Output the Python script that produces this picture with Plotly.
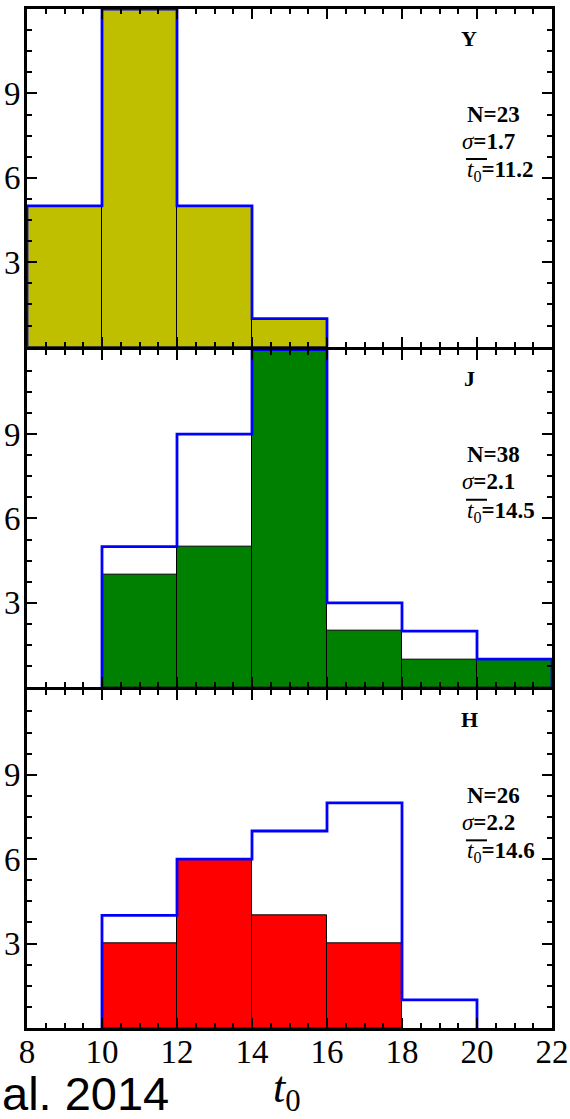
import plotly.graph_objects as go
from plotly.subplots import make_subplots

# ---------------- data ----------------
edges = [8, 10, 12, 14, 16, 18, 20, 22]
panels = ["Y", "J", "H"]
fill_counts = {
    "Y": [5, 12, 5, 1, 0, 0, 0],
    "J": [0, 4, 5, 12, 2, 1, 1],
    "H": [0, 3, 6, 4, 3, 0, 0],
}
blue_counts = {
    "Y": [5, 12, 5, 1, 0, 0, 0],
    "J": [0, 5, 9, 12, 3, 2, 1],
    "H": [0, 4, 6, 7, 8, 1, 0],
}
fill_colors = {"Y": "#BFBF00", "J": "#008000", "H": "#FF0000"}
stat_N = {"Y": 23, "J": 38, "H": 26}
stat_sigma = {"Y": "1.7", "J": "2.1", "H": "2.2"}
stat_mean = {"Y": "11.2", "J": "14.5", "H": "14.6"}
x_ticks = [8, 10, 12, 14, 16, 18, 20, 22]
y_ticks = [3, 6, 9]

# ---------------- layout geometry ----------------
W, H = 570, 1119
ML, MR, MT, MB = 27, 18, 9, 91
LW = 3
XMIN, XMAX = 8, 22
YMIN, YMAX = 0, 12
plot_w = W - ML - MR
plot_h = H - MT - MB
panel_h = (plot_h - 2 * LW) / 3.0

def panel_top(i):
    return MT + i * (panel_h + LW)

def px2x(px):
    return XMIN + (px - ML) / plot_w * (XMAX - XMIN)

def py2y(py, i):
    return YMAX - (py - panel_top(i)) / panel_h * (YMAX - YMIN)

def px2paper(px):
    return (px - ML) / plot_w

def py2paper(py):
    return (H - MB - py) / plot_h

SERIF = "Liberation Serif"
SANS = "Liberation Sans"
fig = make_subplots(rows=3, cols=1, shared_xaxes=True, vertical_spacing=0)

for i, p in enumerate(panels):
    row = i + 1
    centers, widths, vals = [], [], []
    for k, v in enumerate(fill_counts[p]):
        if v > 0:
            centers.append((edges[k] + edges[k + 1]) / 2)
            widths.append(edges[k + 1] - edges[k])
            vals.append(v)
    fig.add_trace(go.Bar(x=centers, y=vals, width=widths,
                         marker=dict(color=fill_colors[p], line=dict(color="black", width=1)),
                         showlegend=False), row=row, col=1)
    # blue step outline
    bc = blue_counts[p]
    nz = [k for k, v in enumerate(bc) if v > 0]
    xs, ys = [edges[nz[0]]], [0]
    for k in range(nz[0], nz[-1] + 1):
        xs += [edges[k], edges[k + 1]]
        ys += [bc[k], bc[k]]
    xs.append(edges[nz[-1] + 1]); ys.append(0)
    fig.add_trace(go.Scatter(x=xs, y=ys, mode="lines",
                             line=dict(color="#0000FF", width=2.8),
                             showlegend=False), row=row, col=1)

    xr = "x" if i == 0 else f"x{row}"
    yr = "y" if i == 0 else f"y{row}"
    top = panel_top(i)
    fig.add_annotation(x=px2x(469), y=py2y(top + 29, i), xref=xr, yref=yr,
                       text=f"<b>{p}</b>", showarrow=False,
                       font=dict(family=SERIF, size=22, color="black"))
    fig.add_annotation(x=px2x(465), y=py2y(top + 105, i), xref=xr, yref=yr,
                       text=f"<b>N={stat_N[p]}</b>", showarrow=False, xanchor="left",
                       font=dict(family=SERIF, size=23, color="black"))
    fig.add_annotation(x=px2x(460), y=py2y(top + 132, i), xref=xr, yref=yr,
                       text=f"<i>σ</i><b>={stat_sigma[p]}</b>", showarrow=False, xanchor="left",
                       font=dict(family=SERIF, size=23, color="black"))
    fig.add_annotation(x=px2x(465), y=py2y(top + 162, i), xref=xr, yref=yr,
                       text=f"<i>t</i><sub>0</sub><b>={stat_mean[p]}</b>", showarrow=False, xanchor="left",
                       font=dict(family=SERIF, size=23, color="black"))
    fig.add_shape(type="line", xref=xr, yref=yr,
                  x0=px2x(466), x1=px2x(487), y0=py2y(top + 150, i), y1=py2y(top + 150, i),
                  line=dict(color="black", width=2))

axis_common = dict(showline=True, linewidth=LW, linecolor="black", mirror="allticks",
                   ticks="inside", ticklen=10, tickwidth=2, tickcolor="black",
                   showgrid=False, zeroline=False, automargin=False)
for row in range(1, 4):
    i = row - 1
    d0 = (H - MB - (panel_top(i) + panel_h)) / plot_h
    d1 = (H - MB - panel_top(i)) / plot_h
    fig.update_xaxes(range=[XMIN, XMAX], tickvals=x_ticks,
                     minor=dict(dtick=0.5, tick0=8, ticks="inside", ticklen=5, tickwidth=1.5,
                                tickcolor="black", showgrid=False),
                     showticklabels=(row == 3), ticklabelstandoff=-8,
                     tickfont=dict(family=SERIF, size=33, color="black"),
                     **axis_common, row=row, col=1)
    fig.update_yaxes(range=[YMIN, YMAX], tickvals=y_ticks, domain=[max(0, d0), min(1, d1)],
                     minor=dict(dtick=0.75, tick0=0, ticks="inside", ticklen=5, tickwidth=1.5,
                                tickcolor="black", showgrid=False),
                     ticklabelstandoff=-3,
                     tickfont=dict(family=SERIF, size=33, color="black"),
                     **axis_common, row=row, col=1)

fig.add_annotation(x=px2paper(287), y=py2paper(1090), xref="paper", yref="paper",
                   text="<i>t</i><sub>0</sub>", showarrow=False,
                   xanchor="center", yanchor="middle",
                   font=dict(family=SERIF, size=44, color="black"))
fig.add_annotation(x=px2paper(171), y=py2paper(1093), xref="paper", yref="paper",
                   text="al. 2014", showarrow=False, xanchor="right", yanchor="middle",
                   font=dict(family=SANS, size=47, color="black"))

fig.update_layout(width=W, height=H, margin=dict(l=ML, r=MR, t=MT, b=MB, autoexpand=False),
                  paper_bgcolor="white", plot_bgcolor="white", bargap=0, barmode="overlay")
fig.write_html("out.html")
